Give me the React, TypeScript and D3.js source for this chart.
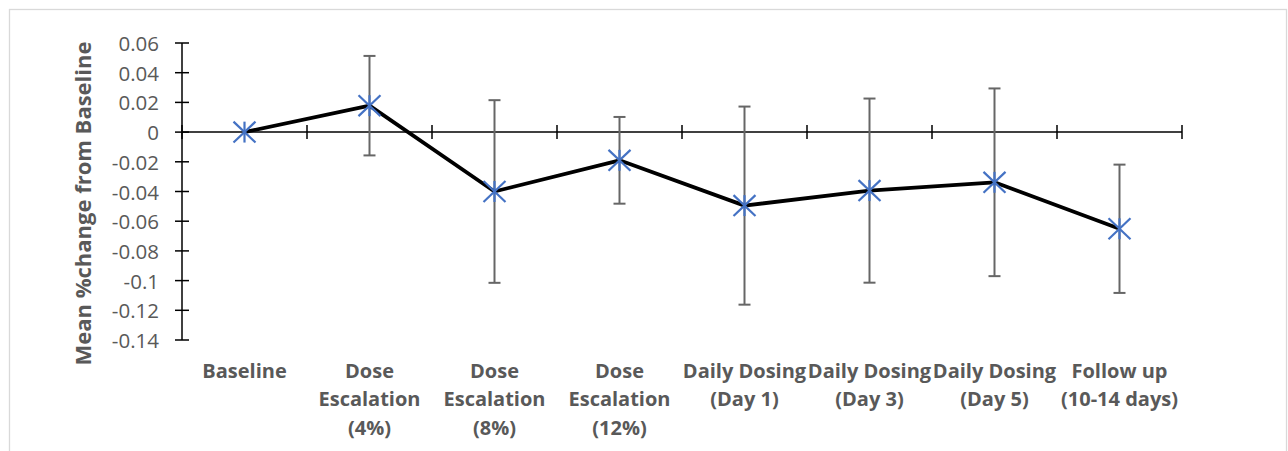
import React from "react";
import * as d3 from "d3";

const categories: string[][] = [
  ["Baseline"],
  ["Dose", "Escalation", "(4%)"],
  ["Dose", "Escalation", "(8%)"],
  ["Dose", "Escalation", "(12%)"],
  ["Daily Dosing", "(Day 1)"],
  ["Daily Dosing", "(Day 3)"],
  ["Daily Dosing", "(Day 5)"],
  ["Follow up", "(10-14 days)"],
];
const meanValues: number[] = [0, 0.0178, -0.04, -0.019, -0.0495, -0.0394, -0.0338, -0.0651];
const errorValues: number[] = [0, 0.0335, 0.0615, 0.0292, 0.0667, 0.062, 0.0632, 0.0432];
const yTicks: number[] = [0.06, 0.04, 0.02, 0, -0.02, -0.04, -0.06, -0.08, -0.1, -0.12, -0.14];
const yTitle = "Mean %change from Baseline";

const FONT = "'Open Sans', 'Noto Sans', sans-serif";
const TEXT = "#595959";

export default function App() {
  const W = 1288;
  const H = 451;
  const x0 = 182;
  const x1 = 1182;
  const yTop = 43;
  const yBot = 340;

  const idx = categories.map((_, i) => String(i));
  const x = d3.scaleBand<string>().domain(idx).range([x0, x1]).padding(0);
  const y = d3.scaleLinear().domain([-0.14, 0.06]).range([yBot, yTop]);
  const cx = (i: number) => (x(String(i)) as number) + x.bandwidth() / 2;
  const zeroY = y(0);

  const line = d3
    .line<number>()
    .x((_, i) => cx(i))
    .y((d) => y(d));

  const boundaries = d3.range(categories.length + 1).map((k) => x0 + k * x.bandwidth());
  const fmt = (v: number) => String(+v.toFixed(2));
  const ms = 11;
  const cap = 6;

  return (
    <svg
      width={W}
      height={H}
      style={{ position: "absolute", left: 0, top: 0, background: "#fff" }}
      fontFamily={FONT}
    >
      <rect x={9.5} y={9.5} width={1277} height={460} fill="#fff" stroke="#d9d9d9" strokeWidth={1.3} />

      {/* y axis */}
      <line x1={x0} x2={x0} y1={yTop} y2={yBot} stroke="#000" strokeWidth={1.5} />
      {yTicks.map((t) => (
        <g key={"yt" + t}>
          <line x1={x0 - 7} x2={x0 + 7} y1={y(t)} y2={y(t)} stroke="#000" strokeWidth={1.5} />
          <text x={159} y={y(t)} textAnchor="end" dominantBaseline="central" fontSize={20.5} fill={TEXT}>
            {fmt(t)}
          </text>
        </g>
      ))}

      {/* x axis at zero */}
      <line x1={x0} x2={x1} y1={zeroY} y2={zeroY} stroke="#000" strokeWidth={1.5} />
      {boundaries.map((bx, k) => (
        <line key={"xt" + k} x1={bx} x2={bx} y1={zeroY - 7} y2={zeroY + 7} stroke="#000" strokeWidth={1.5} />
      ))}

      {/* category labels */}
      {categories.map((lines, i) => (
        <text key={"cl" + i} x={cx(i)} y={378} textAnchor="middle" fontSize={20} fontWeight={700} fill={TEXT}>
          {lines.map((l, j) => (
            <tspan key={j} x={cx(i)} dy={j === 0 ? 0 : 28.3}>
              {l}
            </tspan>
          ))}
        </text>
      ))}

      {/* y title */}
      <text
        transform={`translate(82,${(42 + 365) / 2}) rotate(-90)`}
        textAnchor="middle"
        dominantBaseline="central"
        fontSize={22}
        fontWeight={700}
        fill={TEXT}
      >
        {yTitle}
      </text>

      {/* error bars */}
      {meanValues.map((m, i) =>
        errorValues[i] > 0 ? (
          <g key={"eb" + i} stroke="#666" strokeWidth={2}>
            <line x1={cx(i)} x2={cx(i)} y1={y(m + errorValues[i])} y2={y(m - errorValues[i])} />
            <line x1={cx(i) - cap} x2={cx(i) + cap} y1={y(m + errorValues[i])} y2={y(m + errorValues[i])} />
            <line x1={cx(i) - cap} x2={cx(i) + cap} y1={y(m - errorValues[i])} y2={y(m - errorValues[i])} />
          </g>
        ) : null
      )}

      {/* line */}
      <path d={line(meanValues) || ""} fill="none" stroke="#000" strokeWidth={3.8} strokeLinejoin="round" />

      {/* markers */}
      {meanValues.map((m, i) => (
        <g key={"mk" + i} transform={`translate(${cx(i)},${y(m)})`} stroke="#4472C4" strokeWidth={2.2}>
          <line x1={-ms} x2={ms} y1={-ms * 0.95} y2={ms * 0.95} />
          <line x1={-ms} x2={ms} y1={ms * 0.95} y2={-ms * 0.95} />
          <line x1={0} x2={0} y1={-ms * 0.95} y2={ms * 0.95} />
        </g>
      ))}
    </svg>
  );
}
